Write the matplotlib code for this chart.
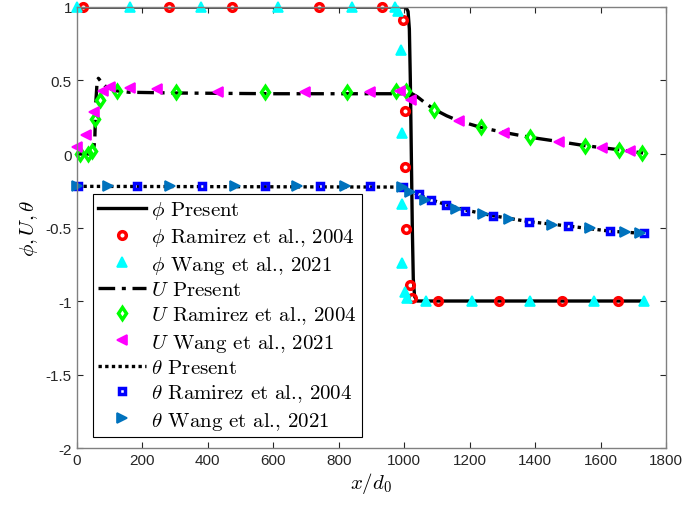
import matplotlib
matplotlib.use('Agg')
import matplotlib.pyplot as plt

# phi (order parameter)
phi_x = [0, 1005, 1012, 1016, 1019, 1022, 1025, 1028, 1032, 1040, 1730]
phi_y = [1, 1, 0.97, 0.85, 0.5, 0, -0.5, -0.85, -0.97, -1, -1]
phi_ram_x = [18, 283, 475, 741, 931, 997, 1002, 1002, 1007, 1017, 1025, 1104, 1290, 1481, 1653]
phi_ram_y = [1, 1, 1, 1, 1, 0.91, 0.29, -0.09, -0.51, -0.89, -0.98, -1, -1, -1, -1]
phi_wang_x = [0, 164, 378, 615, 842, 972, 982, 989, 994, 994, 994, 1002, 1009, 1066, 1206, 1384, 1579, 1733]
phi_wang_y = [1, 1, 1, 1, 1, 1, 0.97, 0.71, 0.14, -0.34, -0.74, -0.94, -0.98, -1, -1, -1, -1, -1]

# U (velocity)
u_x = [0, 50, 55, 58, 62, 66, 75, 90, 120, 160, 300, 600, 1000, 1020, 1028, 1040, 1060, 1090,
       1130, 1165, 1236, 1302, 1384, 1475, 1552, 1653, 1730]
u_y = [0, 0, 0.1, 0.35, 0.49, 0.515, 0.49, 0.455, 0.43, 0.42, 0.415, 0.41, 0.41, 0.415, 0.405,
       0.39, 0.355, 0.306, 0.26, 0.227, 0.18, 0.148, 0.114, 0.084, 0.057, 0.03, 0.007]
u_ram_x = [10, 35, 45, 56, 71, 122, 303, 575, 824, 975, 1007, 1092, 1236, 1384, 1554, 1655, 1728]
u_ram_y = [0, 0, 0.02, 0.24, 0.37, 0.43, 0.425, 0.425, 0.425, 0.43, 0.43, 0.30, 0.186, 0.113, 0.057, 0.027, 0.007]
u_wang_x = [0, 28, 53, 81, 101, 162, 244, 432, 697, 896, 987, 1020, 1167, 1304, 1473, 1606, 1689]
u_wang_y = [0.045, 0.13, 0.285, 0.43, 0.454, 0.447, 0.44, 0.424, 0.42, 0.42, 0.43, 0.37, 0.227,
            0.146, 0.084, 0.041, 0.023]

# theta (temperature)
th_x = [0, 1000, 1020, 1046, 1081, 1129, 1185, 1272, 1381, 1501, 1630, 1730]
th_y = [-0.22, -0.225, -0.255, -0.28, -0.31, -0.345, -0.38, -0.42, -0.46, -0.49, -0.525, -0.54]
th_ram_x = [4, 185, 384, 575, 743, 897, 997, 1046, 1081, 1129, 1185, 1272, 1381, 1501, 1630, 1733]
th_ram_y = [-0.22, -0.22, -0.22, -0.22, -0.22, -0.22, -0.226, -0.275, -0.31, -0.345, -0.385,
            -0.42, -0.46, -0.49, -0.525, -0.54]
th_wang_x = [0, 96, 285, 483, 674, 819, 992, 1017, 1063, 1158, 1241, 1321, 1453, 1569, 1674, 1722]
th_wang_y = [-0.22, -0.22, -0.22, -0.22, -0.22, -0.22, -0.225, -0.26, -0.31, -0.375, -0.41,
             -0.44, -0.48, -0.505, -0.53, -0.54]

x_ticks = [0, 200, 400, 600, 800, 1000, 1200, 1400, 1600, 1800]
y_ticks = [-2, -1.5, -1, -0.5, 0, 0.5, 1]
y_ticklabels = ['-2', '-1.5', '-1', '-0.5', '0', '0.5', '1']

plt.rcParams['mathtext.fontset'] = 'cm'
plt.rcParams['font.family'] = 'Liberation Sans'
plt.rcParams['axes.unicode_minus'] = False

fig = plt.figure(figsize=(6.87, 5.06), dpi=100)
ax = fig.add_axes([0.1118, 0.1126, 0.8576, 0.8716])

hollow = dict(linestyle='none', markerfacecolor='none', markeredgewidth=2.5, clip_on=False)
filled = dict(linestyle='none', markeredgewidth=1.2, clip_on=False)

ax.plot(phi_x, phi_y, color='k', lw=2.4, label=r'$\phi$ Present')
ax.plot(phi_ram_x, phi_ram_y, marker='o', ms=5.5, color='red', label=r'$\phi$ Ramirez et al., 2004', **hollow)
ax.plot(phi_wang_x, phi_wang_y, marker='^', ms=7.5, color='cyan', label=r'$\phi$ Wang et al., 2021', **filled)
ax.plot(u_x, u_y, color='k', lw=2.4, linestyle=(0, (5, 2, 1.2, 2)), label=r'$U$ Present')
ax.plot(u_ram_x, u_ram_y, marker='d', ms=6, color='#00ff00', label=r'$U$ Ramirez et al., 2004', **hollow)
ax.plot(u_wang_x, u_wang_y, marker='<', ms=7.5, color='magenta', label=r'$U$ Wang et al., 2021', **filled)
ax.plot(th_x, th_y, color='k', lw=2.4, linestyle=(0, (1, 1)), label=r'$\theta$ Present')
ax.plot(th_ram_x, th_ram_y, marker='s', ms=4.8, color='blue', label=r'$\theta$ Ramirez et al., 2004', **hollow)
ax.plot(th_wang_x, th_wang_y, marker='>', ms=7.5, color='#0072BD', label=r'$\theta$ Wang et al., 2021', **filled)

ax.set_xlim(0, 1800)
ax.set_ylim(-2, 1)
ax.set_xticks(x_ticks)
ax.set_yticks(y_ticks)
ax.set_yticklabels(y_ticklabels)
ax.tick_params(direction='in', top=True, right=True, labelsize=11, length=4, color='#262626',
               labelcolor='#262626')
for s in ax.spines.values():
    s.set_color('#808080')
    s.set_linewidth(1)

ax.set_xlabel(r'$x/d_0$', fontsize=15, labelpad=2)
ax.set_ylabel(r'$\phi, U, \theta$', fontsize=15, labelpad=4)

leg = ax.legend(loc='upper left', bbox_to_anchor=(0.0275, 0.576), borderaxespad=0,
                prop={'family': 'cmr10', 'size': 15}, fancybox=False, framealpha=1,
                edgecolor='k', handlelength=2.3, handletextpad=0.25, labelspacing=0.25,
                borderpad=0.25)
leg.get_frame().set_linewidth(0.8)

fig.savefig('out.png', dpi=100)
